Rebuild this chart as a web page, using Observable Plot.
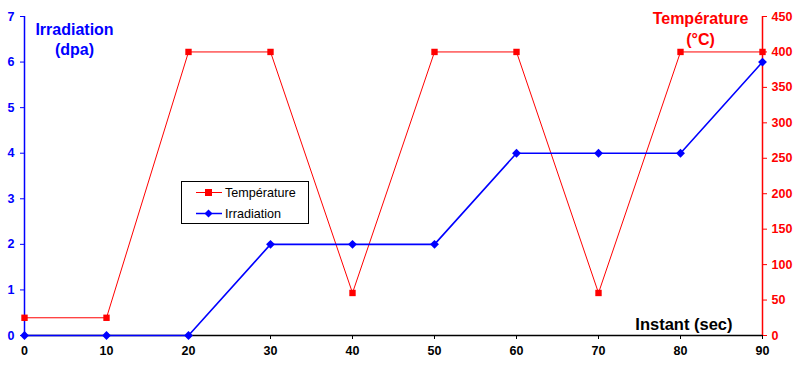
<!DOCTYPE html>
<html>
<head>
<meta charset="utf-8">
<script src="https://cdn.jsdelivr.net/npm/d3@7"></script>
<script src="https://cdn.jsdelivr.net/npm/@observablehq/plot@0.6"></script>
<style>
  body { margin: 0; background: #fff; }
  #wrap { position: relative; width: 810px; height: 371px; font-family: "Liberation Sans", Arial, sans-serif; }
  #wrap g[aria-label$="tick label"] text { font-size: 12.5px; font-weight: bold; }
  #legend { position: absolute; left: 181px; top: 181px; width: 128px; height: 43px; border: 1px solid #000; background: #fff; box-sizing: border-box; font-size: 12.6px; }
  #legend .row { position: absolute; left: 0; height: 17px; display: flex; align-items: center; }
  #legend svg { margin-left: 14px; margin-right: 3px; }
</style>
</head>
<body>
<div id="wrap"></div>
<script>
const instants = [0, 10, 20, 30, 40, 50, 60, 70, 80, 90];
const temperature = [25, 25, 400, 400, 60, 400, 400, 60, 400, 400];
const irradiation = [0, 0, 0, 2, 2, 2, 4, 4, 4, 6];
const leftTicks = [0, 1, 2, 3, 4, 5, 6, 7];
const rightTicks = [0, 50, 100, 150, 200, 250, 300, 350, 400, 450];
const xTicks = [0, 10, 20, 30, 40, 50, 60, 70, 80, 90];
const irrMax = 7, tempMax = 450;
const toIrr = t => t * irrMax / tempMax;

const tempData = instants.map((x, i) => ({x, v: toIrr(temperature[i])}));
const irrData = instants.map((x, i) => ({x, v: irradiation[i]}));

const RED = "#ff0000", BLUE = "#0000ff";

const chart = Plot.plot({
  width: 810,
  height: 371,
  marginLeft: 24,
  marginRight: 48,
  marginTop: 16,
  marginBottom: 36,
  style: {fontFamily: "'Liberation Sans', Arial, sans-serif", background: "#fff", overflow: "visible"},
  x: {domain: [0, 90]},
  y: {domain: [0, irrMax]},
  marks: [
    Plot.axisX(xTicks, {tickSize: 4, tickPadding: 7, fontSize: 12.5, fontWeight: "bold", color: "#000", label: null}),
    Plot.ruleY([0], {stroke: "#000", strokeWidth: 1.5}),
    Plot.axisY(leftTicks, {anchor: "left", tickSize: 4, tickPadding: 6, fontSize: 12.5, fontWeight: "bold", color: BLUE, label: null}),
    Plot.ruleX([0], {stroke: BLUE, strokeWidth: 1.5}),
    Plot.axisY(rightTicks.map(toIrr), {anchor: "right", tickSize: 4, tickPadding: 5, fontSize: 12.5, fontWeight: "bold", color: RED, label: null, tickFormat: d => String(Math.round(d * tempMax / irrMax))}),
    Plot.ruleX([90], {stroke: RED, strokeWidth: 1.5}),
    Plot.line(tempData, {x: "x", y: "v", stroke: RED, strokeWidth: 1}),
    Plot.dot(tempData, {x: "x", y: "v", symbol: "square", r: 3.6, fill: RED, stroke: "none"}),
    Plot.line(irrData, {x: "x", y: "v", stroke: BLUE, strokeWidth: 1.6}),
    Plot.dot(irrData, {x: "x", y: "v", symbol: "diamond2", r: 4, fill: BLUE, stroke: "none"}),
    Plot.text(["Irradiation\n(dpa)"], {frameAnchor: "top-left", dx: 50, dy: 4, fill: BLUE, fontSize: 16, fontWeight: "bold", lineHeight: 1.25, textAnchor: "middle"}),
    Plot.text(["Température\n(°C)"], {frameAnchor: "top-right", dx: -62, dy: -7, fill: RED, fontSize: 16, fontWeight: "bold", lineHeight: 1.3, textAnchor: "middle"}),
    Plot.text(["Instant (sec)"], {frameAnchor: "bottom-right", dx: -30, dy: -6, fill: "#000", fontSize: 16.5, fontWeight: "bold", textAnchor: "end"})
  ]
});

const wrap = document.getElementById("wrap");
wrap.appendChild(chart);

const legendItems = [
  {label: "Température", color: RED, shape: "square"},
  {label: "Irradiation", color: BLUE, shape: "diamond"}
];
const legend = document.createElement("div");
legend.id = "legend";
legendItems.forEach((item, i) => {
  const row = document.createElement("div");
  row.className = "row";
  row.style.top = (i === 0 ? 2 : 23) + "px";
  const marker = item.shape === "square"
    ? `<rect x="9" y="5" width="7" height="7" fill="${item.color}"/>`
    : `<path d="M12.5,4.5 L16.5,8.5 L12.5,12.5 L8.5,8.5 Z" fill="${item.color}"/>`;
  row.innerHTML = `<svg width="26" height="17"><line x1="0" y1="8.5" x2="26" y2="8.5" stroke="${item.color}" stroke-width="${item.shape === 'square' ? 1 : 1.5}"/>${marker}</svg><span>${item.label}</span>`;
  legend.appendChild(row);
});
wrap.appendChild(legend);
</script>
</body>
</html>
